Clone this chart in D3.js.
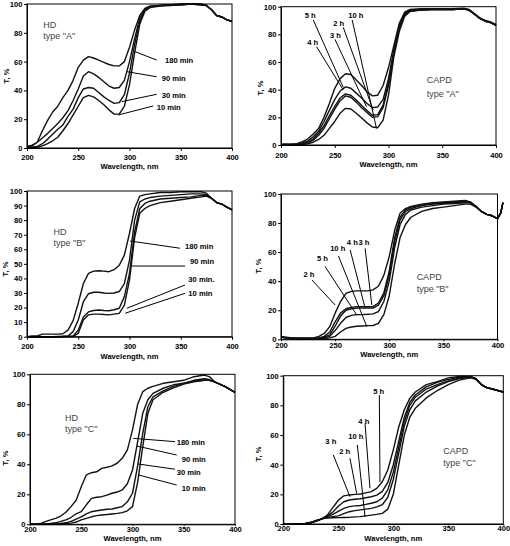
<!DOCTYPE html>
<html><head><meta charset="utf-8">
<script src="https://cdn.jsdelivr.net/npm/d3@7"></script>
<style>
body{margin:0;background:#fff}
svg{display:block}
text{font-family:"Liberation Sans",Arial,sans-serif}
</style>
</head><body>
<svg id="c" width="510" height="546"></svg>
<script>
// ---------- DATA ----------
const wl = [200,205,210,215,220,225,230,235,240,245,250,255,260,265,270,275,280,285,290,295,300,305,310,315,320,330,340,350,360,370,375,380,385,390,395,400];
const wlB = wl.concat([403,405]);
const xTicks = [200,250,300,350,400];
const yTicks20 = [0,20,40,60,80,100];
const yTicks10 = [0,10,20,30,40,50,60,70,80,90,100];

// HD type "A"
const hdA_names = ["180 min","90 min","30 min","10 min"];
const hdA180 = [1,1.5,4,12,19,25,29,35,40,47,56,61,63.5,62.5,61,59.5,58,57,57,60,70,82,92,97,98.5,99,99.5,100,100,100,99,96,92,91,89,88];
const hdA90  = [1,2,4,7,10,13.5,17,21,26,33,41,50,53,51.5,49,46,43,41.5,42,47,60,76,90,96.5,98.5,99,99.5,99.5,100,99.5,99,96,92,91,89,88];
const hdA30  = [0.5,0.5,1,3,6,9.5,13,16,22,27,35,41,42,41.5,38.5,35.5,33,31,31.5,37,52,72,88,95.5,98,99,99.5,99.5,100,99.5,99,96,92,91,89,88];
const hdA10  = [0.5,0.5,0.5,1.5,3,5,7.5,12,17,23,29,35,36.5,35.5,33,30,26.5,23.5,23.5,29,44,66,86,95,97.5,98.5,99,99.5,100,99.5,99,96,92,91,89,88];
const hdA_labelAt = [[334.6,61.1],[331.4,48.1],[331.4,36.3],[326.5,28.3]];
const hdA_leaders = [[326.5,61.1,305.4,66.9],[326.5,49.5,297.3,53],[326.5,37.3,292.4,32.2],[323.2,29.2,289,22.9]];
const hdA_note = ["HD",'type "A"'];
const hdA_noteAt = [215.9,85.4];

// CAPD type "A"
const capdA_names = ["5 h","4 h","3 h","2 h","10 h"];
const capdA_s1 = [0.5,0.5,0.5,1,2.5,4.5,8,12,20,30,41,48,51.5,51,47,43,38.5,35.5,36,43,56,72,88,96,98,98.5,98.5,98.5,98.5,99,98,95,92,90,89,87];
const capdA_s2 = [0.5,0.5,0.5,0.5,1.5,3,6,10,17,25,33,39,42,41,37.5,34,30,27,27.5,33,48,69,86,95,97.5,98,98.5,98.5,98.5,98.5,97.5,94.5,91.5,90,88.5,87];
const capdA_s3 = [0.3,0.3,0.3,0.5,1,2,4.5,8.5,14,21,28,34,37,36,32.5,28.5,25,21.5,22,29,45,67,85,94,97,97.5,98,98,98,98.5,97.5,94.5,91.5,89.5,88.5,86.5];
const capdA_s4 = [0.3,0.3,0.3,0.4,0.8,1.5,3.5,7,12,19,26,32,35.5,34.5,31,27,23.5,20,20.5,27,43,66,84,94,97,97.5,98,98,98,98.5,97.5,94.5,91.5,89.5,88.5,86.5];
const capdA_s5 = [0.2,0.2,0.2,0.2,0.3,0.8,2,4,7,12,17,23,26.5,26,23,19.5,16,13,12.5,18,36,64,82,93,96.5,97.5,98,98,98,98.5,97.5,94.5,91.5,89.5,88.5,86.5];
const capdA_labelAt = [[222.1,93.5],[224.4,74],[245.5,79.5],[248.6,88],[262.5,94]];
const capdA_leaders = [[230,90.4,257.9,41.7],[233.1,71.1,257.9,39.8],[250.2,76.4,279.5,27.7],[257.9,85.1,285.7,25.3],[266.2,90.4,288.8,12.1]];
const capdA_note = ["CAPD",'type "A"'];
const capdA_noteAt = [335.6,47];

// HD type "B"
const hdB_names = ["180 min","90 min","30 min.","10 min"];
const hdB180 = [0,0.5,0.5,1.8,1.8,1.8,1.8,2,4.5,11,23,36.5,43.5,45,45.3,45,44.6,46,49,56,71,88,96.5,97.5,98,99,99,99.5,99.5,99.5,98.5,95,92,91,89,87];
const hdB90  = [0,0,0,0,0,0,0.2,0.3,0.5,3.5,11.5,24,29.5,30.5,30.5,30,29.7,30,31,36.5,52.5,80,92.5,94.5,95.5,96.5,97,97.5,98,98,97.5,95,92,91,89,87];
const hdB30  = [0,0,0,0,0,0,0,0.2,0.3,0.5,4.5,13.5,17,18,18.3,18,17.8,18.5,19.5,27.5,43.5,72,88,91.5,93,94.5,95,95.5,96,97,97,95,92,91,89,87];
const hdB10  = [0,0,0,0,0,0,0,0,0.1,0.2,2.3,11.4,15,15.5,15.5,15.2,15,15.5,16,21.7,39,68,84.7,88,90,92,93,94,95,96,96.5,95,92,91,89,87];
const hdB_labelAt = [[354.2,61.8],[359.1,52],[357.4,39.6],[357.4,30]];
const hdB_leaders = [[349.3,60.7,300.6,65.7],[354.2,48.5,302.3,48.5],[354.2,35.5,297.4,19.5],[354.2,29.8,295.8,16.1]];
const hdB_note = ["HD",'type "B"'];
const hdB_noteAt = [225.9,72.1];

// CAPD type "B"
const capdB_names = ["2 h","5 h","10 h","4 h","3 h"];
const capdB_s1 = [2,1.5,1,1,0.8,0.8,1,2,4,8.7,18,26,31.6,33,33.3,33.3,33.3,34,36.5,44,57,75,86.7,90,91.5,93,94,94.5,95,95.5,94.5,91.5,88,86,85,83,87,94];
const capdB_s2 = [1.5,1,0.8,0.5,0.5,0.5,0.5,1,2,5,12,18,21,22,22.5,22.5,22.5,22.5,25,32,47,70,84,89,91,92.5,93.5,94,94.5,95,94.5,91.5,88,86,85,83,87,94];
const capdB_s3 = [1.5,1,0.8,0.5,0.5,0.5,0.5,0.8,1.5,3,9,16,20,21,21.5,21.5,21.5,21.5,23.5,30,44,67,82,88,90,92,93,93.5,94,94.5,94,91.5,88,86,85,83,87,94];
const capdB_s4 = [1.5,1,0.8,0.5,0.5,0.5,0.5,0.5,1,2,6,11,15,16.5,17,17,17.2,17.5,19,26,40,63,79,86,89,91,92,93,93.5,94,94,91.5,88,86,85,83,87,94];
const capdB_s5 = [1.5,1,0.8,0.5,0.5,0.5,0.5,0.5,0.5,1,2,5,7.5,8.5,9,9.2,9.4,9.5,11,17,30,52,70,79,84,88,90,91,92,93,93,91,88,86,85,83,87,94];
const capdB_labelAt = [[220.8,44.7],[233.2,55.7],[245.4,62.6],[260.8,66.8],[271.5,66.8]];
const capdB_leaders = [[228.6,40.8,250,23.6],[240.8,50,270,16.7],[253.1,57.3,279.3,8.7],[263.9,61.5,277.7,21.5],[277.7,62.6,283.9,23.6]];
const capdB_note = ["CAPD",'type "B"'];
const capdB_noteAt = [325.3,43.1];

// HD type "C"
const hdC_names = ["180 min","90 min","30 min","10 min"];
const hdC180 = [0,0,0.5,1.8,2.9,4,5.5,8,11.8,16,25,33,34.4,35,37.3,38,39,40.7,44,49.6,63,80,88.4,90.7,92,94,95,96,98.4,99.5,98.5,95,93.5,92,90,88];
const hdC90  = [0,0,0,0,0.5,1,2,3,4.5,7,8.4,13,17.3,18,18.4,19.5,20.7,21.5,22.9,27,36.2,55,74,83,87.3,90.7,93,94,96,97,96.5,95,93.5,92,90,88];
const hdC30  = [0,0,0,0,0,0,0.5,1,2,3.5,5,7,8.4,9,9.5,10,10.2,11,11.8,15,20.7,39,60.7,78.4,85,89,92,94,95.5,96,96,95,93.5,92,90,88];
const hdC10  = [0,0,0,0,0,0,0,0.5,0.8,1.5,3,4,5,5.8,6.2,6.5,6.9,7.3,7.8,9,11.8,28,51.8,74,83,88,91,93.5,95,96,96,95,93.5,92,90,88];
const hdC_labelAt = [[343.1,54.4],[348,43.5],[343.1,34.9],[348,24]];
const hdC_leaders = [[341.5,55.1,300.8,57.3],[343.1,46.2,304.1,52.2],[341.5,36.7,305.7,40.2],[343.1,26.2,305.7,32.9]];
const hdC_note = ["HD",'type "C"'];
const hdC_noteAt = [234.1,71.3];

// CAPD type "C"
const capdC_names = ["5 h","4 h","10 h","2 h","3 h"];
const capdC_s1 = [0,0,0,0,0.3,1.2,2,3.5,6,11,16,19,19.6,20,20.2,21,21.8,24,28.5,36.4,50,65.6,77,84.7,89,94,96,98.5,99.5,99.5,98,94,92,91,90,89];
const capdC_s2 = [0,0,0,0,0.3,1,2,3.5,5.5,8,12,15,16.2,16.7,17,17.7,18.4,19.5,22,28,40,56,72,82,87,92.5,95.5,97.5,99,99.5,98,94,92,91,90,89];
const capdC_s3 = [0,0,0,0,0.2,0.8,2,3.5,5,6.5,8.5,10.5,11.7,12.2,12.5,13.2,14,15,17.5,23,35,52,69,80,85.5,91,94,96.5,98.5,99.3,98,94,92,91,90,89];
const capdC_s4 = [0,0,0,0,0.2,0.8,2.2,3.5,4.5,5,5.5,7,8.3,9,9.5,10,10.5,11.5,13,18,30,48,66,77,83,89,93,96,98,99,98,94,92,91,90,89];
const capdC_s5 = [0,0,0,0,0.2,1,2.5,3.5,4,4.2,4.3,4.4,4.5,4.8,5,5.5,6,6.5,7.2,10,20,40,60,72,78,85,90,94,97,98.5,97.5,94,92,91,90,89];
const capdC_labelAt = [[281.8,89.7],[268.2,69],[259.1,59.3],[250.9,48.8],[238.2,55.5]];
const capdC_leaders = [[287.3,87,287.9,28.3],[274.3,67.9,278.8,24.1],[267.3,53.3,274.3,4.9],[260.6,44.3,266.7,20.7],[245.5,46.5,260.6,18.4]];
const capdC_note = ["CAPD",'type "C"'];
const capdC_noteAt = [345.5,49.4];

// ---------- LAYOUT (pixels) ----------
const panels = [
  {wl: wl,  series:[hdA180,hdA90,hdA30,hdA10], names:hdA_names, labelAt:hdA_labelAt, leaders:hdA_leaders, note:hdA_note, noteAt:hdA_noteAt, yTicks:yTicks20,
   box:{l:27,r:232,t:4,b:148,xlab:9.4,xtit:18.6,tick:3,ytx:6,yty:76,gap:11}},
  {wl: wl,  series:[capdA_s1,capdA_s2,capdA_s3,capdA_s4,capdA_s5], names:capdA_names, labelAt:capdA_labelAt, leaders:capdA_leaders, note:capdA_note, noteAt:capdA_noteAt, yTicks:yTicks20,
   box:{l:281,r:496,t:6.7,b:145,xlab:10.5,xtit:19.5,tick:3,ytx:260,yty:88,gap:14}},
  {wl: wl,  series:[hdB180,hdB90,hdB30,hdB10], names:hdB_names, labelAt:hdB_labelAt, leaders:hdB_leaders, note:hdB_note, noteAt:hdB_noteAt, yTicks:yTicks10,
   box:{l:27,r:232,t:191,b:336.7,xlab:9.6,xtit:19.5,tick:3,ytx:5,yty:269,gap:10.7}},
  {wl: wlB, series:[capdB_s1,capdB_s2,capdB_s3,capdB_s4,capdB_s5], names:capdB_names, labelAt:capdB_labelAt, leaders:capdB_leaders, note:capdB_note, noteAt:capdB_noteAt, yTicks:yTicks20,
   box:{l:281,r:497.5,t:194,b:339.3,xlab:6.5,xtit:15.5,tick:2,ytx:258,yty:266,gap:11.7}},
  {wl: wl,  series:[hdC180,hdC90,hdC30,hdC10], names:hdC_names, labelAt:hdC_labelAt, leaders:hdC_leaders, note:hdC_note, noteAt:hdC_noteAt, yTicks:yTicks20,
   box:{l:30,r:235,t:374.3,b:524.3,xlab:4.6,xtit:14,tick:1.5,ytx:5,yty:458,gap:11}},
  {wl: wl,  series:[capdC_s1,capdC_s2,capdC_s3,capdC_s4,capdC_s5], names:capdC_names, labelAt:capdC_labelAt, leaders:capdC_leaders, note:capdC_note, noteAt:capdC_noteAt, yTicks:yTicks20,
   box:{l:283.3,r:503.3,t:375.7,b:524,xlab:4.6,xtit:14.3,tick:1.5,ytx:258,yty:454,gap:12.6}}
];

const FS = 7.6;
const svg = d3.select('#c');

panels.forEach(p => {
  const b = p.box;
  const x = d3.scaleLinear().domain([200,400]).range([b.l,b.r]);
  const y = d3.scaleLinear().domain([0,100]).range([b.b,b.t]);
  const g = svg.append('g');

  // curves
  const line = d3.line().x(d=>x(d[0])).y(d=>y(d[1]));
  p.series.forEach(vals => {
    g.append('path').datum(p.wl.map((w,i)=>[w,vals[i]]))
      .attr('d', line).attr('fill','none').attr('stroke','#111')
      .attr('stroke-width',1.4).attr('stroke-linejoin','round');
  });

  // frame
  g.append('rect').attr('x',b.l).attr('y',b.t).attr('width',b.r-b.l).attr('height',b.b-b.t)
    .attr('fill','none').attr('stroke','#000').attr('stroke-width',1);

  // x axis
  const gx = g.append('g').attr('transform',`translate(0,${b.b})`)
    .call(d3.axisBottom(x).tickValues(xTicks).tickSize(b.tick).tickSizeOuter(0));
  gx.select('.domain').attr('stroke','#000');
  gx.selectAll('text').attr('y', b.xlab).attr('dy','0.35em')
    .attr('font-size',FS).attr('font-weight','bold').attr('font-family','Liberation Sans, Arial, sans-serif').attr('fill','#000');

  // y axis
  const gy = g.append('g').attr('transform',`translate(${b.l},0)`)
    .call(d3.axisLeft(y).tickValues(p.yTicks).tickSize(3).tickPadding(1.5).tickSizeOuter(0));
  gy.selectAll('text').attr('font-size',FS).attr('font-weight','bold')
    .attr('font-family','Liberation Sans, Arial, sans-serif').attr('fill','#000');

  // axis titles
  g.append('text').attr('x',(b.l+b.r)/2).attr('y',b.b+b.xtit).attr('dy','0.35em')
    .attr('text-anchor','middle').attr('font-size',FS).attr('font-weight','bold')
    .text('Wavelength, nm');
  g.append('text').attr('transform',`translate(${b.ytx},${b.yty}) rotate(-90)`)
    .attr('dy','0.35em').attr('text-anchor','middle').attr('font-size',FS).attr('font-weight','bold')
    .text('T, %');

  // leaders + labels
  p.leaders.forEach(l => {
    g.append('line').attr('x1',x(l[0])).attr('y1',y(l[1])).attr('x2',x(l[2])).attr('y2',y(l[3]))
      .attr('stroke','#000').attr('stroke-width',1);
  });
  p.names.forEach((n,i) => {
    g.append('text').attr('x',x(p.labelAt[i][0])).attr('y',y(p.labelAt[i][1])).attr('dy','0.35em')
      .attr('font-size',FS).attr('font-weight','bold').text(n);
  });

  // note
  p.note.forEach((t,i) => {
    g.append('text').attr('x',x(p.noteAt[0])).attr('y',y(p.noteAt[1]) + i*b.gap).attr('dy','0.35em')
      .attr('font-size',9).attr('fill','#444').text(t);
  });
});
</script>
</body></html>
